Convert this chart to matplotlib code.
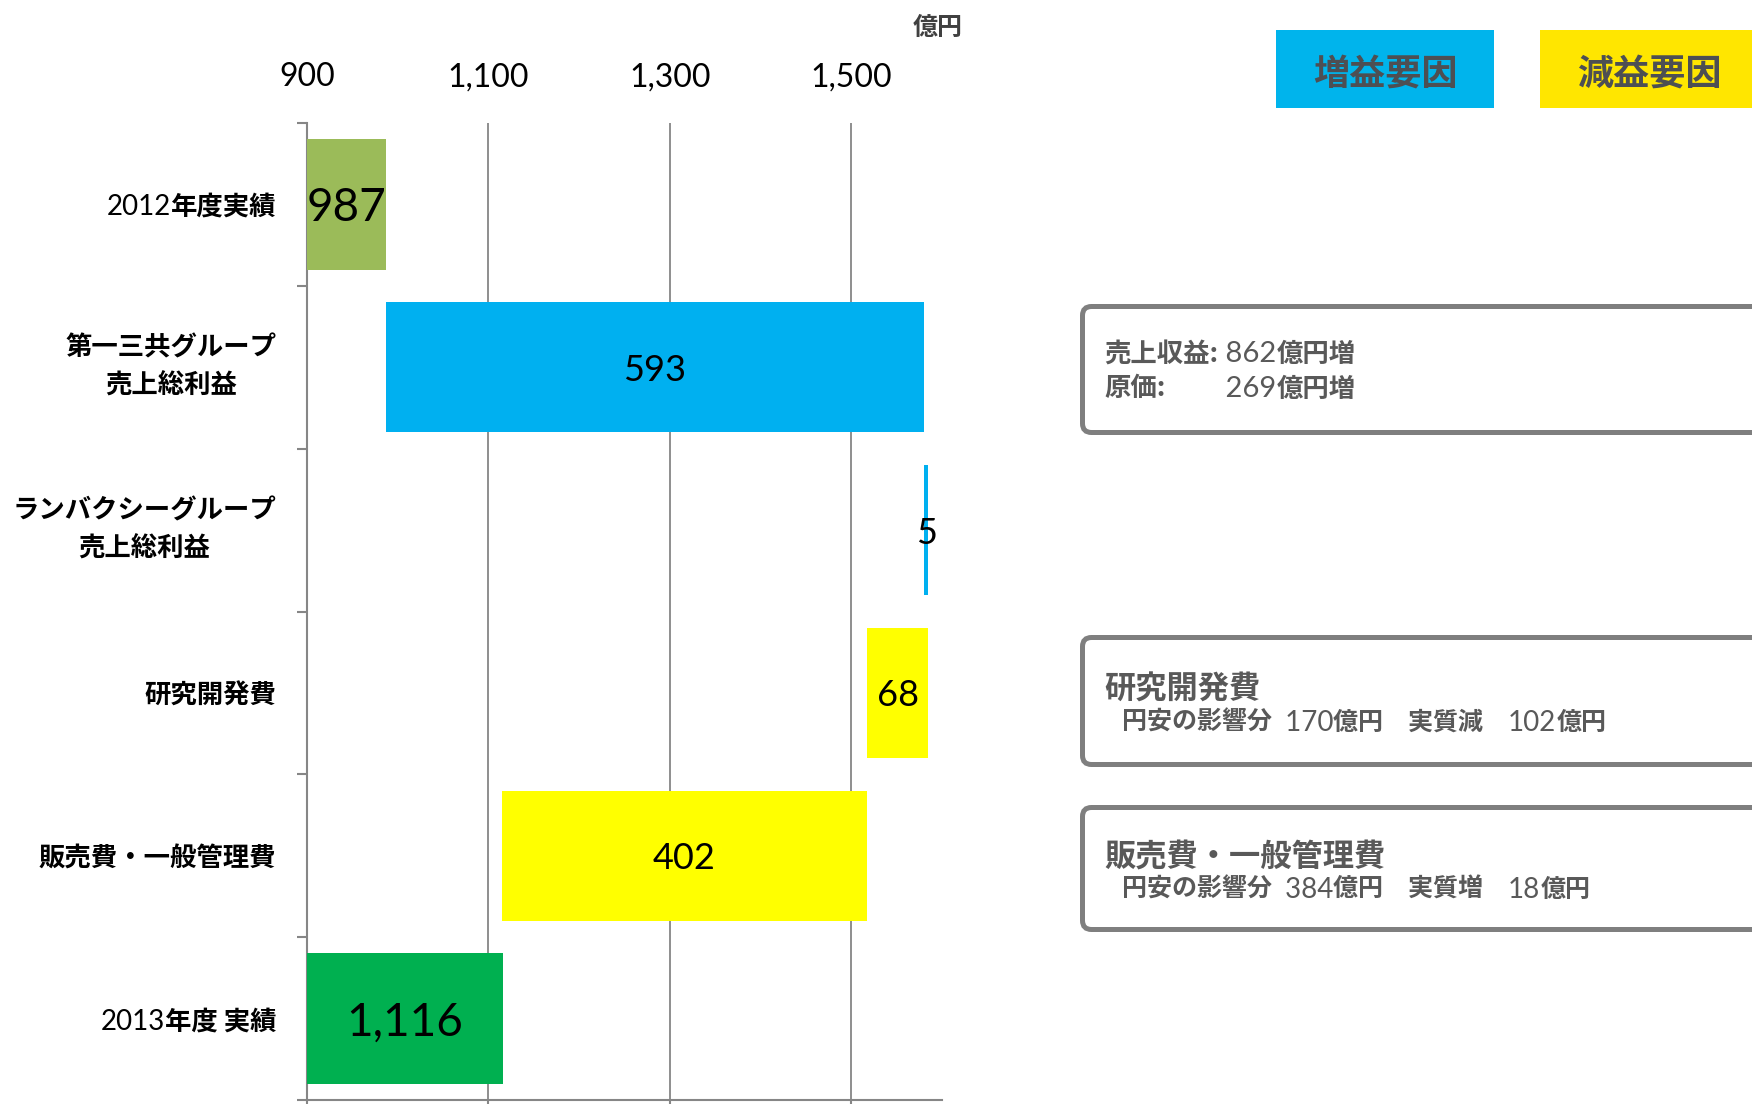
import matplotlib.pyplot as plt
import numpy as np
from matplotlib.patches import FancyBboxPatch, Rectangle

# Fuentes: japonés en Noto CJK, cifras en Lato
jp = ['Noto Sans CJK JP', 'DejaVu Sans']
num = ['Lato', 'Noto Sans CJK JP', 'DejaVu Sans']
plt.rcParams['font.family'] = jp

# Datos del gráfico de cascada (億円)
categorias = ['2012年度実績', '第一三共グループ\n売上総利益', 'ランバクシーグループ\n売上総利益',
              '研究開発費', '販売費・一般管理費', '2013年度 実績']
prefijos = ['2012', '', '', '', '', '2013']
textos_eje = ['年度実績', '第一三共グループ\n売上総利益', 'ランバクシーグループ\n売上総利益',
              '研究開発費', '販売費・一般管理費', '年度 実績']
valores = [987, 593, 5, -68, -402, 1116]
es_total = [True, False, False, False, False, True]
etiquetas = ['987', '593', '5', '68', '402', '1,116']
colores = ['#9BBB59', '#00B0F0', '#00B0F0', '#FFFF00', '#FFFF00', '#00B050']
ticks_x = [900, 1100, 1300, 1500]
x_min, x_max = 900, 1600

# Calculamos los inicios de cada barra
lefts, widths = [], []
acumulado = 0
for v, tot in zip(valores, es_total):
    if tot:
        lefts.append(0)
        widths.append(v)
        acumulado = v
    else:
        lefts.append(acumulado if v > 0 else acumulado + v)
        widths.append(abs(v))
        acumulado += v

fig = plt.figure(figsize=(17.52, 11.04), dpi=100)
ax = fig.add_axes([307 / 1752, 1 - 1100 / 1104, (942 - 307) / 1752, (1100 - 123) / 1104])

y = np.arange(len(categorias))
ax.barh(y, widths, left=lefts, height=0.8, color=colores, zorder=3)

# Etiquetas de valor dentro de las barras
for i, (l, w, et, tot) in enumerate(zip(lefts, widths, etiquetas, es_total)):
    a = max(l, x_min)
    b = l + w
    ax.text((a + b) / 2, i, et, ha='center', va='center_baseline', family=num,
            fontsize=33 if tot else 26, color='black', zorder=4)

ax.set_xlim(x_min, x_max)
ax.set_ylim(len(categorias) - 0.5, -0.5)

ax.set_xticks(ticks_x)
ax.set_xticklabels([f'{t:,}' for t in ticks_x], family=num, fontsize=23)
ax.tick_params(axis='x', top=False, labeltop=True, bottom=True, labelbottom=False,
               direction='out', length=7, width=1.5, color='#868686', pad=15)
ax.xaxis.grid(True, color='#868686', linewidth=1.3, zorder=0)
ax.set_axisbelow(True)

ax.set_yticks(np.arange(-0.5, len(categorias) + 0.5, 1))
ax.set_yticklabels([])
ax.set_yticks(y, minor=True)
ax.set_yticklabels(textos_eje, minor=True, fontsize=19, fontweight='bold',
                   multialignment='center', linespacing=1.55)
ax.tick_params(axis='y', which='major', direction='out', length=7, width=1.5, color='#868686')
ax.tick_params(axis='y', which='minor', length=0, pad=22)

for lab, pref in zip(ax.get_yticklabels(minor=True), prefijos):
    if '\n' in lab.get_text():
        lab.set_va('center')
    if pref:
        ax.annotate(pref, xy=(0, 0.5), xycoords=lab, ha='right', va='center', fontsize=20,
                    family=num, annotation_clip=False)

for s in ['top', 'right']:
    ax.spines[s].set_visible(False)
for s in ['left', 'bottom']:
    ax.spines[s].set_color('#868686')
    ax.spines[s].set_linewidth(1.5)

# Capa superior en píxeles para leyenda y cuadros de comentario
ov = fig.add_axes([0, 0, 1, 1])
ov.set_xlim(0, 1752)
ov.set_ylim(1104, 0)
ov.axis('off')

ov.text(938, 28, '億円', ha='center', va='center', fontsize=18, fontweight='bold', color='#404040')

leyenda = [('増益要因', '#00B4EC', 1276, 218, 1385), ('減益要因', '#FFE600', 1540, 230, 1649)]
for txt, col, x0, w, xc in leyenda:
    ov.add_patch(Rectangle((x0, 30), w, 78, facecolor=col, edgecolor='none'))
    ov.text(xc, 74, txt, ha='center', va='center', fontsize=26, fontweight='bold', color='#4D4F53')

gris = '#7F7F7F'
for top, bot in [(304, 435), (635, 767), (805, 932)]:
    ov.add_patch(FancyBboxPatch((1082.5, top + 2.5), 900, bot - top - 5,
                                boxstyle='round,pad=0,rounding_size=9',
                                facecolor='white', edgecolor=gris, linewidth=3.6))

col_txt = '#595959'


def texto_mixto(x, y0, partes, size):
    t = None
    hechos = []
    for s, negrita in partes:
        kw = dict(color=col_txt, va='center', ha='left',
                  fontsize=size if negrita else size + 2,
                  family=jp if negrita else num, fontweight='bold' if negrita else 'normal')
        if t is None:
            t = ov.text(x, y0, s, **kw)
        else:
            t = ov.annotate(s, xy=(1, 0.5), xycoords=t, **kw)
        hechos.append(t)
    return hechos


l1 = texto_mixto(1104, 354, [('売上収益:', True), (' 862', False), ('億円増', True)], 19)
ov.text(1104, 389, '原価:', fontsize=19, color=col_txt, va='center', fontweight='bold')
t269 = ov.annotate(' 269', xy=(0, 389), xycoords=(l1[1], 'data'), fontsize=21, color=col_txt,
                   va='center', family=num)
ov.annotate('億円増', xy=(1, 0.5), xycoords=t269, fontsize=19, color=col_txt, va='center',
            fontweight='bold')

ov.text(1104, 690, '研究開発費', fontsize=22.5, color=col_txt, va='center', fontweight='bold')
texto_mixto(1122, 723, [('円安の影響分 ', True), (' 170', False), ('億円\u3000実質減\u3000', True),
                        ('102', False), ('億円', True)], 18)

ov.text(1104, 858, '販売費・一般管理費', fontsize=22.5, color=col_txt, va='center', fontweight='bold')
texto_mixto(1122, 890, [('円安の影響分 ', True), (' 384', False), ('億円\u3000実質増\u3000', True),
                        ('18', False), ('億円', True)], 18)

fig.savefig('out.png', dpi=100)
